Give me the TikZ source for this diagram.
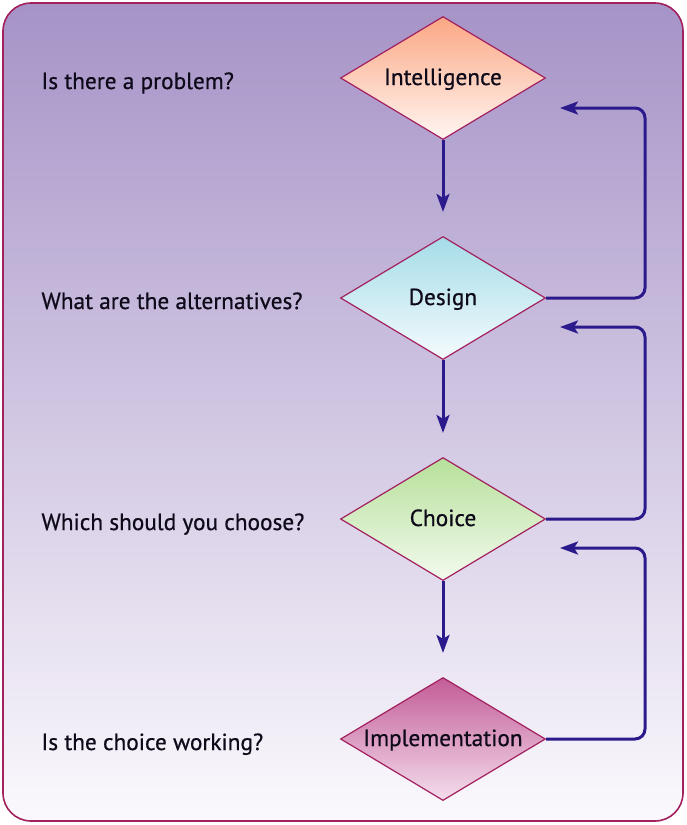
\documentclass[tikz,border=0pt]{standalone}
\usepackage{fontspec}
\setmainfont{PT Sans}
\newfontfamily\qfont{PT Sans}[FakeBold=0.6]
\usetikzlibrary{shapes.geometric,arrows.meta}
\definecolor{bgtop}{HTML}{A693C7}
\definecolor{bgbot}{HTML}{FBF9FD}
\definecolor{frame}{HTML}{A3205F}
\definecolor{flowblue}{HTML}{2B1A8C}
\definecolor{inkdark}{HTML}{0E0A1A}
\definecolor{inteltop}{HTML}{FBA784}
\definecolor{intelbot}{HTML}{FFF6F2}
\definecolor{designtop}{HTML}{A5DCE8}
\definecolor{designbot}{HTML}{F4FBFD}
\definecolor{choicetop}{HTML}{B6E09A}
\definecolor{choicebot}{HTML}{F3FAEE}
\definecolor{impltop}{HTML}{C35C98}
\definecolor{implbot}{HTML}{F4DEEC}
\newcommand{\qsize}[0]{\qfont\fontsize{23.3}{26}\selectfont}

\begin{document}
\begin{tikzpicture}[x=1pt, y=-1pt]
  \tikzset{
    phase/.style={diamond, draw=frame, line width=1.2pt, inner sep=0pt,
      aspect=2, text height=14pt, text depth=0pt,
      minimum width=205pt, minimum height=123pt, text=inkdark, font=\qsize},
    question/.style={anchor=base west, text=inkdark, font=\qsize},
    flow/.style={draw=flowblue, line width=3pt,
      -{Stealth[length=18pt, width=13pt, inset=4pt]}}
  }
  \useasboundingbox (0,0) rectangle (686,825);
  % background panel
  \draw[rounded corners=28pt, draw=frame, line width=1.6pt,
    top color=bgtop, bottom color=bgbot] (3,3) rectangle (683,821);
  % the four phases
  \node[phase, top color=inteltop, bottom color=intelbot] (D-1) at (443,78) {Intelligence};
  \node[phase, top color=designtop, bottom color=designbot] (D-2) at (443,298) {Design};
  \node[phase, top color=choicetop, bottom color=choicebot] (D-3) at (443,519) {Choice};
  \node[phase, top color=impltop, bottom color=implbot] (D-4) at (443,739) {Implementation};
  % questions
  \node[question] (Q-1) at (38,89) {Is there a problem?};
  \node[question] (Q-2) at (38,309) {What are the alternatives?};
  \node[question] (Q-3) at (38,530) {Which should you choose?};
  \node[question] (Q-4) at (38,750) {Is the choice working?};
  % feedback corners and tips
  \coordinate (R-1) at (645,108);
  \coordinate (T-1) at (560,108);
  \coordinate (R-2) at (645,327);
  \coordinate (T-2) at (560,327);
  \coordinate (R-3) at (645,548);
  \coordinate (T-3) at (560,548);
  \foreach \i/\j in {1/2, 2/3, 3/4} {
    \draw[flow, shorten >=24pt] (D-\i.south) -- (D-\j.north);
    \draw[flow, rounded corners=10pt] (D-\j.east) -| (R-\i) -- (T-\i);
  }
\end{tikzpicture}
\end{document}
